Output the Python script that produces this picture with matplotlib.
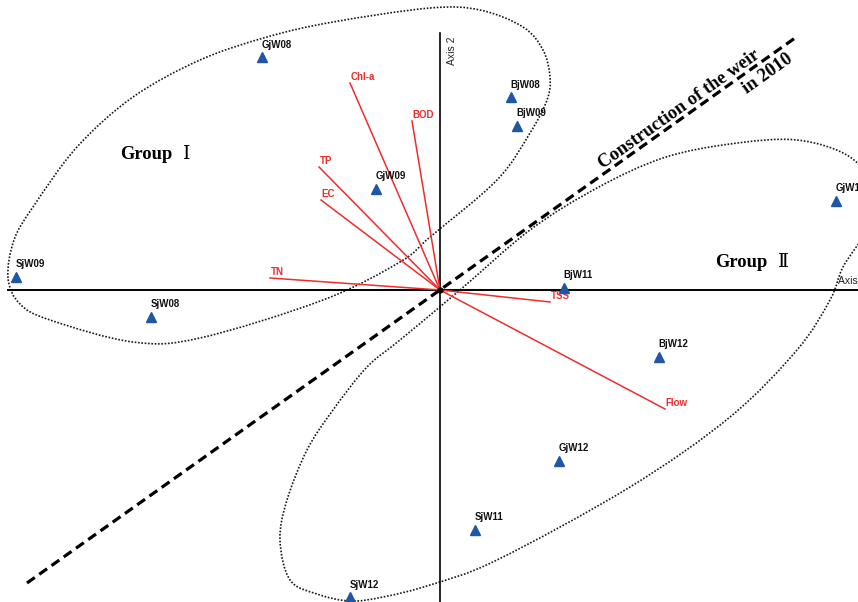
import numpy as np
import matplotlib
matplotlib.use("Agg")
import matplotlib.pyplot as plt
from matplotlib.path import Path
from matplotlib.patches import PathPatch

# ---- ordination scores -------------------------------------------------
sites = ["GjW08", "SjW09", "SjW08", "GjW09", "BjW08", "BjW09",
         "BjW11", "GjW11", "BjW12", "GjW12", "SjW11", "SjW12"]
site_ax1 = [-0.89, -2.12, -1.445, -0.32, 0.355, 0.385,
            0.62, 1.98, 1.095, 0.595, 0.175, -0.45]
site_ax2 = [1.165, 0.065, -0.135, 0.505, 0.965, 0.82,
            0.01, 0.445, -0.335, -0.855, -1.20, -1.535]

variables = ["Chl-a", "BOD", "TP", "EC", "TN", "TSS", "Flow"]
var_ax1 = [-0.45, -0.14, -0.605, -0.595, -0.85, 0.55, 1.125]
var_ax2 = [1.035, 0.845, 0.615, 0.45, 0.06, -0.06, -0.595]

# outlines of the two site groups (closed smooth curves through these nodes)
group1_x = [-2.16, -2.13, -2.035, -1.815, -1.535, -1.20, -0.865, -0.535, -0.05,
            0.20, 0.415, 0.515, 0.55, 0.535, 0.45, 0.285, -0.05, -0.20, -0.585,
            -1.20, -1.535, -1.95, -2.10]
group1_y = [0.06, 0.25, 0.415, 0.715, 0.965, 1.15, 1.265, 1.34, 1.41,
            1.40, 1.315, 1.20, 1.065, 0.95, 0.785, 0.55, 0.265, 0.14, -0.05,
            -0.24, -0.26, -0.15, -0.07]
group2_x = [0.10, 0.45, 0.785, 1.115, 1.45, 1.785, 2.05, 2.16, 2.13, 2.015,
            1.95, 1.785, 1.45, 0.95, 0.285, -0.05, -0.285, -0.45, -0.615,
            -0.75, -0.80, -0.765, -0.665, -0.535, -0.365, -0.20]
group2_y = [0.0, 0.30, 0.51, 0.66, 0.73, 0.75, 0.665, 0.50, 0.30, 0.115,
            -0.05, -0.30, -0.635, -0.985, -1.35, -1.475, -1.535, -1.555, -1.52,
            -1.45, -1.25, -1.05, -0.80, -0.60, -0.385, -0.25]

# weir divider line end points
weir_x = [-2.065, 1.775]
weir_y = [-1.465, 1.26]

SITE_COLOR = "#2155a5"
VAR_COLOR = "#f02c2c"
SANS = "Liberation Sans"
SERIF = "Liberation Serif"


def closed_smooth_path(xs, ys):
    """Closed Catmull-Rom curve through the nodes, as cubic Bezier segments."""
    p = np.column_stack([xs, ys])
    n = len(p)
    verts = [p[0]]
    codes = [Path.MOVETO]
    for i in range(n):
        p0, p1, p2, p3 = p[i - 1], p[i], p[(i + 1) % n], p[(i + 2) % n]
        c1 = p1 + (p2 - p0) / 6.0
        c2 = p2 - (p3 - p1) / 6.0
        verts += [c1, c2, p2]
        codes += [Path.CURVE4] * 3
    return Path(np.array(verts), codes)


fig = plt.figure(figsize=(8.58, 6.02), dpi=100)
ax = fig.add_axes([0, 0, 1, 1])
ax.set_xlim(-2.20, 2.09)
ax.set_ylim(-1.56, 1.45)
ax.axis("off")

# group outlines
for gx, gy in [(group1_x, group1_y), (group2_x, group2_y)]:
    ax.add_patch(PathPatch(closed_smooth_path(gx, gy), fill=False,
                           edgecolor="#1a1a1a", lw=1.2,
                           linestyle=(0, (1, 1.0)), zorder=1))

# ordination axes
ax.plot([-2.16, 2.09], [0, 0], color="black", lw=1.4, zorder=2)
ax.plot([0, 0], [-1.56, 1.285], color="black", lw=1.2, zorder=2)
ax.text(1.99, 0.018, "Axis 1", family=SANS, fontsize=7.5, color="#222222",
        ha="left", va="bottom", zorder=3)
ax.text(0.06, 1.195, "Axis 2", family=SANS, fontsize=7.5, color="#222222",
        rotation=90, ha="center", va="center", zorder=3)

# weir divider
ax.plot(weir_x, weir_y, color="black", lw=2.3, linestyle=(0, (3.0, 1.7)),
        zorder=3)
ax.text(1.195, 0.905, "Construction of the weir", family=SERIF,
        fontweight="bold", fontsize=13.3, rotation=35.4, rotation_mode="anchor",
        ha="center", va="center", zorder=4)
ax.text(1.64, 1.08, "in 2010", family=SERIF, fontweight="bold", fontsize=13.3,
        rotation=35.4, rotation_mode="anchor", ha="center", va="center",
        zorder=4)

# environmental vectors
for name, vx, vy in zip(variables, var_ax1, var_ax2):
    ax.plot([0, vx], [0, vy], color=VAR_COLOR, lw=1.1, zorder=4)
    ax.annotate(name, (vx, vy), xytext=(0.5, 4), textcoords="offset points",
                family=SANS, fontweight="bold", fontsize=7, color=VAR_COLOR,
                ha="left", va="center", zorder=5)
ax.plot([0], [0], marker="o", ms=3.5, color="black", zorder=5)

# sites
ax.plot(site_ax1, site_ax2, linestyle="none", marker="^", ms=7.5,
        color=SITE_COLOR, zorder=6)
for name, sx, sy in zip(sites, site_ax1, site_ax2):
    ax.annotate(name, (sx, sy), xytext=(-0.5, 9), textcoords="offset points",
                family=SANS, fontweight="bold", fontsize=7, color="#111111",
                ha="left", va="center", zorder=6)

# group titles
ax.text(-1.60, 0.675, "Group", family=SERIF, fontweight="bold", fontsize=13.3,
        ha="left", va="center", zorder=4)
ax.text(-1.285, 0.675, "\u2160", family=[SERIF, "DejaVu Serif", "Noto Sans CJK SC"],
        fontsize=13.3, ha="left", va="center", zorder=4)
ax.text(1.375, 0.135, "Group", family=SERIF, fontweight="bold", fontsize=13.3,
        ha="left", va="center", zorder=4)
ax.text(1.69, 0.135, "\u2161", family=[SERIF, "DejaVu Serif", "Noto Sans CJK SC"],
        fontsize=13.3, ha="left", va="center", zorder=4)

fig.savefig("out.png", dpi=100)
